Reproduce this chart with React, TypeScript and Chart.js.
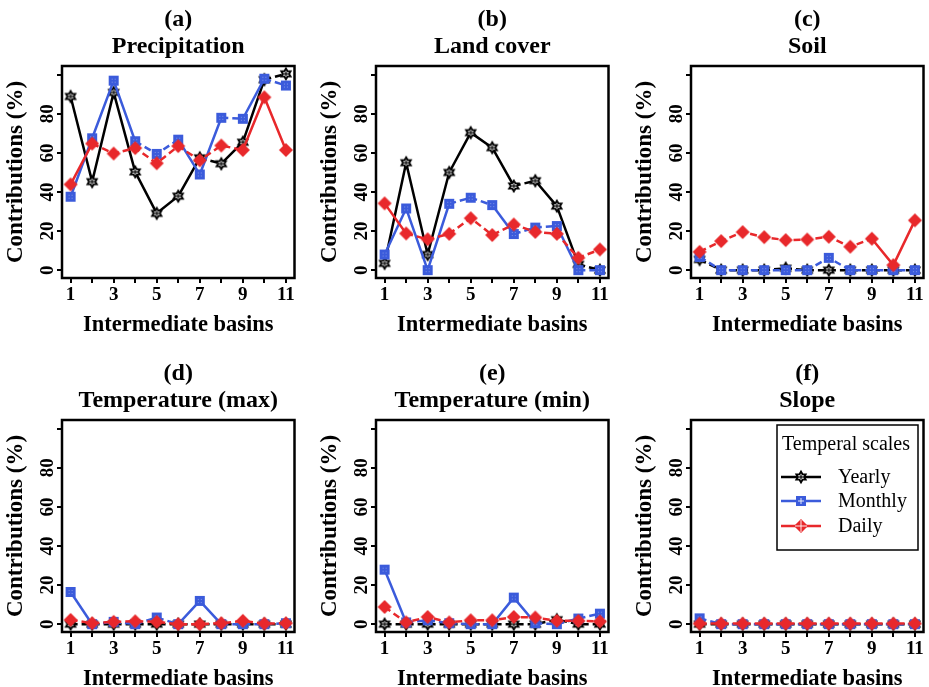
import React, { useEffect, useRef } from 'react';
import { Chart, registerables } from 'chart.js';

Chart.register(...registerables);

// ---------- data ----------
const basins = [1, 2, 3, 4, 5, 6, 7, 8, 9, 10, 11];
const yTicks = [0, 20, 40, 60, 80, 100];
const yTickLabels = ['0', '20', '40', '60', '80', ''];
const xTickLabels = ['1', '', '3', '', '5', '', '7', '', '9', '', '11'];
const seriesNames = ['Yearly', 'Monthly', 'Daily'];
const legendTitle = 'Temperal scales';
const xTitle = 'Intermediate basins';
const yTitle = 'Contributions (%)';

const precipYearly = [88.9, 45.3, 91.0, 50.3, 29.1, 37.9, 57.5, 54.5, 65.5, 97.5, 100.5];
const precipMonthly = [37.6, 67.5, 97.0, 66.0, 59.5, 66.8, 49.0, 78.0, 77.5, 98.0, 94.5];
const precipDaily = [43.9, 64.8, 59.7, 62.5, 54.7, 63.5, 56.2, 63.8, 61.5, 88.5, 61.5];

const landYearly = [3.5, 55.0, 8.0, 50.0, 70.4, 62.7, 43.1, 45.8, 32.8, 3.0, 0.0];
const landMonthly = [8.0, 31.6, 0.0, 34.0, 37.1, 33.3, 18.5, 21.8, 22.6, 0.0, 0.0];
const landDaily = [34.2, 18.8, 15.8, 18.6, 26.6, 18.0, 23.4, 19.6, 18.6, 6.3, 10.6];

const soilYearly = [5.5, 0, 0, 0, 1.0, 0, 0, 0, 0, 0, 0];
const soilMonthly = [6.8, 0, 0, 0, 0, 0, 6.3, 0, 0, 0, 0];
const soilDaily = [9.4, 14.9, 19.5, 16.9, 15.4, 15.7, 17.1, 12.0, 16.1, 2.6, 25.5];

const tmaxYearly = [0, 0, 0, 0, 0, 0, 0, 0, 0, 0, 0];
const tmaxMonthly = [16.5, 0, 1.2, 0, 3.4, 0, 11.9, 0, 0, 0, 0.5];
const tmaxDaily = [2.2, 0.5, 1.2, 1.5, 1.2, 0, 0, 0.5, 1.7, 0.3, 0.5];

const tminYearly = [0, 0, 0, 0, 0, 0, 0, 0, 2.3, 0, 0];
const tminMonthly = [27.9, 0.9, 2.0, 0.5, 0, 0, 13.6, 0.5, 0, 2.9, 5.4];
const tminDaily = [8.8, 0.9, 3.7, 0.9, 2.0, 2.0, 3.7, 3.4, 1.7, 1.7, 1.4];

const slopeYearly = [0, 0, 0, 0, 0, 0, 0, 0, 0, 0, 0];
const slopeMonthly = [3.0, 0, 0, 0, 0, 0, 0, 0, 0, 0, 0];
const slopeDaily = [0.3, 0.3, 0.3, 0.3, 0.3, 0.3, 0.3, 0.3, 0.3, 0.3, 0.3];

const panelLetters = ['(a)', '(b)', '(c)', '(d)', '(e)', '(f)'];
const panelNames = ['Precipitation', 'Land cover', 'Soil', 'Temperature (max)', 'Temperature (min)', 'Slope'];
const panelSeries = [
  [precipYearly, precipMonthly, precipDaily],
  [landYearly, landMonthly, landDaily],
  [soilYearly, soilMonthly, soilDaily],
  [tmaxYearly, tmaxMonthly, tmaxDaily],
  [tminYearly, tminMonthly, tminDaily],
  [slopeYearly, slopeMonthly, slopeDaily],
];

// ---------- styles ----------
const COLORS = ['#000000', '#3B5BDB', '#E8282B'];
const DASH_BELOW = [6, 10, 12.5];
const FONT = '"Liberation Serif", "Times New Roman", serif';
const PLOT_W = 235;
const PLOT_H = 212;
const AX_W = 62;
const AX_H = 65;
const PAD_TOP = 66;
const PAD_RIGHT = 6;
const CANVAS_W = AX_W + PLOT_W + PAD_RIGHT;
const CANVAS_H = PAD_TOP + PLOT_H + AX_H;
const COL_LEFT = [62, 376, 691];
const ROW_TOP = [66, 420];

function starPath(ctx: CanvasRenderingContext2D, x: number, y: number, r: number) {
  ctx.beginPath();
  for (let t = 0; t < 2; t++) {
    const base = t === 0 ? -Math.PI / 2 : Math.PI / 2;
    for (let k = 0; k < 3; k++) {
      const ang = base + (k * 2 * Math.PI) / 3;
      const px = x + r * Math.cos(ang);
      const py = y + r * Math.sin(ang);
      if (k === 0) ctx.moveTo(px, py);
      else ctx.lineTo(px, py);
    }
    ctx.closePath();
  }
}

function drawHexagram(ctx: CanvasRenderingContext2D, x: number, y: number) {
  const r = 7.2;
  ctx.save();
  ctx.fillStyle = '#000';
  starPath(ctx, x, y, r);
  ctx.fill('nonzero');
  ctx.fillStyle = '#fff';
  starPath(ctx, x, y, r * 0.48);
  ctx.fill('nonzero');
  ctx.fillStyle = '#000';
  ctx.fillRect(x - 0.6, y - 2.2, 1.2, 4.4);
  ctx.fillRect(x - 2.2, y - 0.6, 4.4, 1.2);
  ctx.restore();
}

function drawSquare(ctx: CanvasRenderingContext2D, x: number, y: number, legend = false) {
  const h = 5;
  ctx.save();
  ctx.fillStyle = COLORS[1];
  ctx.fillRect(x - h, y - h, 2 * h, 2 * h);
  ctx.fillStyle = legend ? 'rgba(255,255,255,0.85)' : 'rgba(255,255,255,0.35)';
  if (legend) {
    ctx.fillRect(x - 0.5, y - 3, 1, 6);
    ctx.fillRect(x - 3, y - 0.5, 6, 1);
  } else {
    for (const dx of [-2, 1]) for (const dy of [-2, 1]) ctx.fillRect(x + dx, y + dy, 1, 1);
  }
  ctx.restore();
}

function drawDiamond(ctx: CanvasRenderingContext2D, x: number, y: number, legend = false) {
  const r = 7;
  ctx.save();
  ctx.fillStyle = COLORS[2];
  ctx.beginPath();
  ctx.moveTo(x, y - r);
  ctx.lineTo(x + r, y);
  ctx.lineTo(x, y + r);
  ctx.lineTo(x - r, y);
  ctx.closePath();
  ctx.fill();
  if (legend) {
    ctx.strokeStyle = 'rgba(255,255,255,0.9)';
    ctx.lineWidth = 1;
    ctx.beginPath();
    ctx.moveTo(x - r + 1, y);
    ctx.lineTo(x + r - 1, y);
    ctx.moveTo(x, y - r + 1);
    ctx.lineTo(x, y + r - 1);
    ctx.stroke();
  }
  ctx.restore();
}

const markerFns: Array<(c: CanvasRenderingContext2D, x: number, y: number, l?: boolean) => void> = [
  drawHexagram,
  drawSquare,
  drawDiamond,
];

function makeMarker(fn: (c: CanvasRenderingContext2D, x: number, y: number, l?: boolean) => void) {
  const c = document.createElement('canvas');
  c.width = 16;
  c.height = 16;
  const g = c.getContext('2d')!;
  fn(g, 8, 8, false);
  return c;
}

function decorPlugin(idx: number, showLegend: boolean) {
  return {
    id: 'decor' + idx,
    afterDatasetsDraw(chart: any) {
      const { ctx, chartArea: a } = chart;
      ctx.save();
      ctx.strokeStyle = '#000';
      ctx.lineWidth = 2.5;
      ctx.strokeRect(a.left, a.top, a.right - a.left, a.bottom - a.top);
      ctx.restore();
    },
    afterDraw(chart: any) {
      const { ctx, chartArea: a, scales } = chart;
      const cx = (a.left + a.right) / 2;
      ctx.save();
      ctx.fillStyle = '#000';
      ctx.textAlign = 'center';
      ctx.textBaseline = 'middle';
      // panel titles
      ctx.font = `bold 24px ${FONT}`;
      ctx.fillText(panelLetters[idx], cx, a.top - 46);
      ctx.fillText(panelNames[idx], cx, a.top - 19);
      // x tick labels
      ctx.font = `bold 19px ${FONT}`;
      basins.forEach((b, i) => {
        const lab = xTickLabels[i];
        if (lab) ctx.fillText(lab, scales.x.getPixelForValue(b), a.bottom + 17);
      });
      // x title
      ctx.font = `bold 22.5px ${FONT}`;
      ctx.fillText(xTitle, cx, a.bottom + 47);
      // y tick labels (rotated)
      ctx.font = `bold 19px ${FONT}`;
      yTicks.forEach((v, i) => {
        const lab = yTickLabels[i];
        if (!lab) return;
        ctx.save();
        ctx.translate(a.left - 14, scales.y.getPixelForValue(v));
        ctx.rotate(-Math.PI / 2);
        ctx.fillText(lab, 0, 0);
        ctx.restore();
      });
      // y title
      ctx.font = `bold 23px ${FONT}`;
      ctx.save();
      ctx.translate(a.left - 46, (a.top + a.bottom) / 2);
      ctx.rotate(-Math.PI / 2);
      ctx.fillText(yTitle, 0, 0);
      ctx.restore();

      if (showLegend) {
        const L = a.left;
        const T = a.top;
        ctx.fillStyle = '#fff';
        ctx.fillRect(L + 86, T + 5, 141, 125);
        ctx.strokeStyle = '#000';
        ctx.lineWidth = 1.5;
        ctx.strokeRect(L + 86, T + 5, 141, 125);
        ctx.fillStyle = '#000';
        ctx.textAlign = 'left';
        ctx.font = `20px ${FONT}`;
        ctx.fillText(legendTitle, L + 91, T + 25);
        const ys = [T + 57, T + 81, T + 106];
        seriesNames.forEach((name, i) => {
          ctx.strokeStyle = COLORS[i];
          ctx.lineWidth = 2.5;
          ctx.beginPath();
          ctx.moveTo(L + 90, ys[i]);
          ctx.lineTo(L + 130, ys[i]);
          ctx.stroke();
          markerFns[i](ctx, L + 110, ys[i], true);
          ctx.fillStyle = '#000';
          ctx.fillText(name, L + 147, ys[i] + 1);
        });
      }
      ctx.restore();
    },
  };
}

function Panel({ idx }: { idx: number }) {
  const ref = useRef<HTMLCanvasElement>(null);
  useEffect(() => {
    if (!ref.current) return;
    const markers = markerFns.map((f) => makeMarker(f));
    const datasets = panelSeries[idx].map((arr, s) => ({
      label: seriesNames[s],
      data: basins.map((b, i) => ({ x: b, y: arr[i] })),
      borderColor: COLORS[s],
      backgroundColor: COLORS[s],
      borderWidth: 2.5,
      borderJoinStyle: 'round' as const,
      pointStyle: markers[s],
      pointRadius: 6,
      pointHoverRadius: 6,
      tension: 0,
      clip: false as const,
      order: 3 - s,
      segment: {
        borderDash: (c: any) =>
          Math.abs(c.p1.parsed.y - c.p0.parsed.y) < DASH_BELOW[s] ? [7, 4] : undefined,
      },
    }));
    const chart = new Chart(ref.current, {
      type: 'line',
      data: { datasets },
      options: {
        responsive: false,
        animation: false,
        events: [],
        layout: { padding: { top: PAD_TOP, right: PAD_RIGHT, left: 0, bottom: 0 } },
        plugins: { legend: { display: false }, title: { display: false }, tooltip: { enabled: false } },
        scales: {
          x: {
            type: 'linear',
            min: 0.6,
            max: 11.4,
            afterBuildTicks: (scale: any) => {
              scale.ticks = basins.map((v) => ({ value: v }));
            },
            afterFit: (scale: any) => {
              scale.height = AX_H;
            },
            ticks: { display: false },
            border: { display: false },
            grid: { drawOnChartArea: false, drawTicks: true, tickLength: 5, color: '#000', lineWidth: 2 },
          },
          y: {
            type: 'linear',
            min: -4,
            max: 104.5,
            afterBuildTicks: (scale: any) => {
              scale.ticks = yTicks.map((v) => ({ value: v }));
            },
            afterFit: (scale: any) => {
              scale.width = AX_W;
            },
            ticks: { display: false },
            border: { display: false },
            grid: { drawOnChartArea: false, drawTicks: true, tickLength: 5, color: '#000', lineWidth: 2 },
          },
        },
      },
      plugins: [decorPlugin(idx, idx === 5)],
    });
    return () => chart.destroy();
  }, [idx]);
  const col = idx % 3;
  const row = Math.floor(idx / 3);
  return (
    <canvas
      ref={ref}
      width={CANVAS_W}
      height={CANVAS_H}
      style={{
        position: 'absolute',
        left: COL_LEFT[col] - AX_W,
        top: ROW_TOP[row] - PAD_TOP,
        width: CANVAS_W,
        height: CANVAS_H,
      }}
    />
  );
}

export default function App() {
  return (
    <div
      style={{
        position: 'fixed',
        left: 0,
        top: 0,
        width: 929,
        height: 687,
        background: '#fff',
        overflow: 'hidden',
      }}
    >
      {[0, 1, 2, 3, 4, 5].map((i) => (
        <Panel key={i} idx={i} />
      ))}
    </div>
  );
}
